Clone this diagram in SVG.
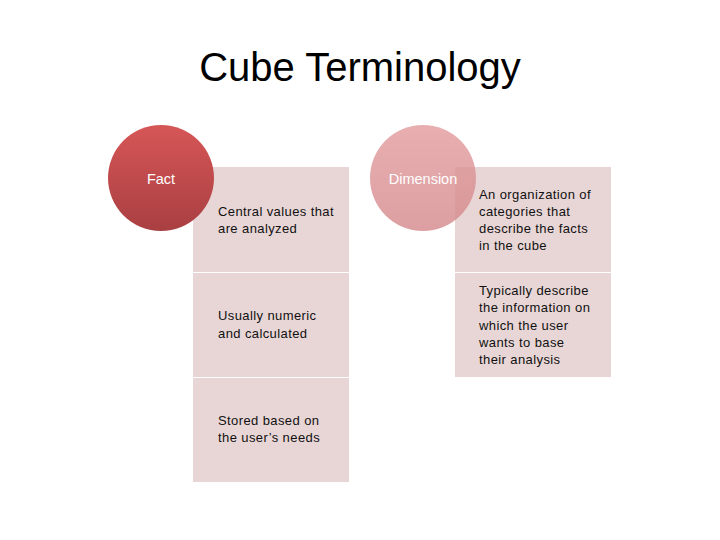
<svg xmlns="http://www.w3.org/2000/svg" width="720" height="540" viewBox="0 0 720 540">
<style>
.box{fill:#e8d6d6;}
.t{font-family:"Liberation Sans",Arial,sans-serif;font-size:13px;fill:#111;letter-spacing:0.4px;}
.ct{font-family:"Liberation Sans",Arial,sans-serif;font-size:14.5px;fill:#fff;}
.title{font-family:"Liberation Sans",Arial,sans-serif;font-size:40px;fill:#000;}
</style>
<defs>
<linearGradient id="gFact" x1="0" y1="0" x2="0" y2="1">
<stop offset="0" stop-color="#d65656"/>
<stop offset="1" stop-color="#a93f42"/>
</linearGradient>
<linearGradient id="gDim" x1="0" y1="0" x2="0" y2="1">
<stop offset="0" stop-color="#e29a9c"/>
<stop offset="1" stop-color="#d4878a"/>
</linearGradient>
</defs>
<rect width="720" height="540" fill="#fff"/>
<text class="title" x="360" y="81" text-anchor="middle">Cube Terminology</text>
<g id="fact-boxes">
<rect class="box" x="193" y="167" width="156" height="105"/>
<rect class="box" x="193" y="273" width="156" height="104"/>
<rect class="box" x="193" y="378" width="156" height="104"/>
<text class="t" x="218" y="216">Central values that</text>
<text class="t" x="218" y="233">are analyzed</text>
<text class="t" x="218" y="320">Usually numeric</text>
<text class="t" x="218" y="338">and calculated</text>
<text class="t" x="218" y="425">Stored based on</text>
<text class="t" x="218" y="442">the user’s needs</text>
</g>
<g id="fact">
<circle cx="161" cy="178" r="53" fill="url(#gFact)"/>
<text class="ct" x="161" y="184" text-anchor="middle">Fact</text>
</g>
<g id="dimension-boxes">
<rect class="box" x="455" y="167" width="156" height="105"/>
<rect class="box" x="455" y="273" width="156" height="104"/>
<text class="t" x="479" y="199">An organization of</text>
<text class="t" x="479" y="216">categories that</text>
<text class="t" x="479" y="233">describe the facts</text>
<text class="t" x="479" y="250">in the cube</text>
<text class="t" x="479" y="295">Typically describe</text>
<text class="t" x="479" y="312">the information on</text>
<text class="t" x="479" y="330">which the user</text>
<text class="t" x="479" y="347">wants to base</text>
<text class="t" x="479" y="364">their analysis</text>
</g>
<g id="dimension">
<circle cx="423" cy="178" r="53" fill="url(#gDim)" fill-opacity="0.8"/>
<text class="ct" x="423" y="184" text-anchor="middle">Dimension</text>
</g>
<g id="connectors"></g>
</svg>
